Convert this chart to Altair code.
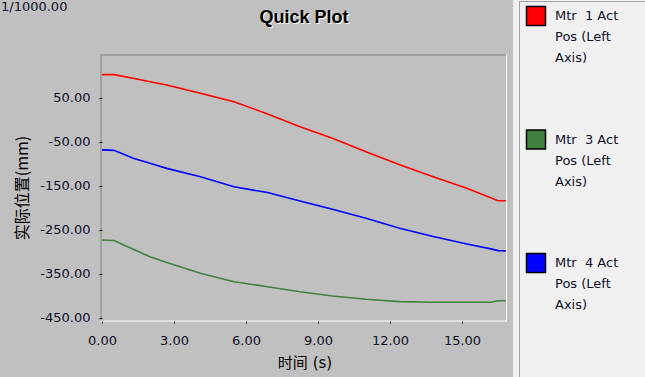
import altair as alt
import pandas as pd

# ---- data ----
time_s = [0, 0.5, 1.3, 2.0, 2.7, 4.1, 5.5, 6.9, 8.25, 9.6, 11.0, 12.4, 13.8, 15.2, 16.2, 16.5, 16.875]
mtr1 = [103, 103, 95, 87, 79.5, 60.7, 41.6, 13.6, -15.3, -41.6, -72, -102, -129, -155, -177, -183.5, -183.5]
mtr3 = [-273, -274, -294, -311, -324, -348.5, -367.6, -379, -390.4, -400, -407.5, -413, -414.5, -414.5, -414.5, -411, -411]
mtr4 = [-68, -69, -87, -98.5, -110, -129, -152, -165, -184, -203, -223.5, -246, -265, -282, -293, -297, -298]

series_keys = ["Mtr 1", "Mtr 3", "Mtr 4"]
legend_labels = [
    "Mtr\u00a0\u00a01 Act|Pos (Left|Axis)",
    "Mtr\u00a0\u00a03 Act|Pos (Left|Axis)",
    "Mtr\u00a0\u00a04 Act|Pos (Left|Axis)",
]
series_colors = ["#ff0000", "#408040", "#0000ff"]
x_ticks = [0, 3, 6, 9, 12, 15]
y_ticks = [-450, -350, -250, -150, -50, 50]

rows = []
for key, lab, vals in zip(series_keys, legend_labels, [mtr1, mtr3, mtr4]):
    for t, v in zip(time_s, vals):
        rows.append({"t": t, "v": v, "series": key, "entry": lab})
df = pd.DataFrame(rows)
one = pd.DataFrame({"k": [0]})

W, H = 405, 267
LABEL_FONT = "DejaVu Sans"
TXT = "#101028"

x_enc = alt.X(
    "t:Q",
    scale=alt.Scale(domain=[0, 16.875], nice=False, zero=False),
    axis=alt.Axis(
        values=x_ticks, labelExpr="format(datum.value, '.2f')", grid=False, domain=False,
        tickSize=2, tickColor="#000000", labelFont=LABEL_FONT, labelFontSize=13,
        labelColor=TXT, labelPadding=11, labelFlush=False, labelOverlap=False,
        title="时间 (s)", titleFont="DejaVu Sans, Noto Sans CJK SC", titleFontSize=15,
        titleFontWeight="normal", titleColor="#000000", titlePadding=8, zindex=1,
    ),
)
y_enc = alt.Y(
    "v:Q",
    scale=alt.Scale(domain=[-457, 150], nice=False, zero=False),
    axis=alt.Axis(
        values=y_ticks,
        labelExpr="(datum.value < 0 ? '-' : '') + format(abs(datum.value), '.2f')",
        grid=False, domain=False, tickSize=3, tickColor="#000000",
        labelFont=LABEL_FONT, labelFontSize=13, labelColor=TXT, labelPadding=9,
        labelFlush=False, labelOverlap=False,
        title="实际位置(mm)", titleFont="Noto Sans CJK SC", titleFontSize=16,
        titleFontWeight="normal", titleColor="#000000", titlePadding=9, zindex=1,
    ),
)

# grey left panel (chart background is the light legend colour)
panel = alt.Chart(one).mark_rect(color="#c0c0c0").encode(
    x=alt.value(-110), x2=alt.value(411), y=alt.value(-60), y2=alt.value(330)
)
panel_left = alt.Chart(one).mark_rule(color="#a0a0a0", strokeWidth=1).encode(
    x=alt.value(417.5), y=alt.value(-52.5), y2=alt.value(330)
)
panel_top = alt.Chart(one).mark_rule(color="#a0a0a0", strokeWidth=1).encode(
    x=alt.value(417), x2=alt.value(560), y=alt.value(-52.5)
)

# plot frame: grey top/left, white bottom/right
frame_top = alt.Chart(one).mark_rule(color="#a0a0a0", strokeWidth=2).encode(
    x=alt.value(-2), x2=alt.value(W), y=alt.value(1)
)
frame_left = alt.Chart(one).mark_rule(color="#a0a0a0", strokeWidth=2).encode(
    x=alt.value(-1), y=alt.value(0), y2=alt.value(H)
)
frame_right = alt.Chart(one).mark_rule(color="#ffffff", strokeWidth=1).encode(
    x=alt.value(W - 0.5), y=alt.value(0), y2=alt.value(H + 0.5)
)
frame_bottom = alt.Chart(one).mark_rule(color="#ffffff", strokeWidth=1).encode(
    x=alt.value(-2), x2=alt.value(W), y=alt.value(H)
)

lines = alt.Chart(df).mark_line(strokeWidth=1.6).encode(
    x=x_enc, y=y_enc,
    stroke=alt.Stroke("series:N", scale=alt.Scale(domain=series_keys, range=series_colors),
                      legend=None),
)

legend_marks = alt.Chart(df).mark_square(filled=True, opacity=0).encode(
    x=x_enc, y=y_enc,
    fill=alt.Fill(
        "entry:N", scale=alt.Scale(domain=legend_labels, range=series_colors),
        legend=alt.Legend(
            title=None, orient="none", legendX=423.5, legendY=-48.5,
            symbolType="square", symbolSize=361, symbolStrokeColor="#000000",
            symbolStrokeWidth=1.5, symbolOpacity=1,
            labelExpr="split(datum.label, '|')", labelFont=LABEL_FONT,
            labelFontSize=13, labelColor=TXT, labelBaseline="middle",
            labelOffset=8.5, labelLimit=0,
            rowPadding=61.5, padding=0, zindex=1,
        ),
    ),
)

scale_note = alt.Chart(one).mark_text(
    text="1/1000.00", align="left", baseline="top", font=LABEL_FONT, fontSize=13, color=TXT
).encode(x=alt.value(-101), y=alt.value(-53.3))

title_shadow = alt.Chart(one).mark_text(
    text="Quick Plot", align="center", baseline="alphabetic", font="Liberation Sans",
    fontSize=18, fontWeight="bold", color="#ffffff"
).encode(x=alt.value(203), y=alt.value(-30))
title_main = alt.Chart(one).mark_text(
    text="Quick Plot", align="center", baseline="alphabetic", font="Liberation Sans",
    fontSize=18, fontWeight="bold", color="#000000"
).encode(x=alt.value(202), y=alt.value(-31))

chart = alt.layer(
    panel, panel_left, panel_top,
    lines, legend_marks,
    frame_top, frame_left, frame_right, frame_bottom,
    scale_note, title_shadow, title_main,
).properties(
    width=W, height=H,
    padding={"left": 102, "top": 54, "right": 138, "bottom": 56},
    autosize=alt.AutoSizeParams(type="none"),
    background="#f0f0f0",
).configure_view(stroke=None).configure(
    style={"guide-label": {"lineHeight": 21}}
)

chart.save("out.html", embed_options={"renderer": "svg", "actions": False})
